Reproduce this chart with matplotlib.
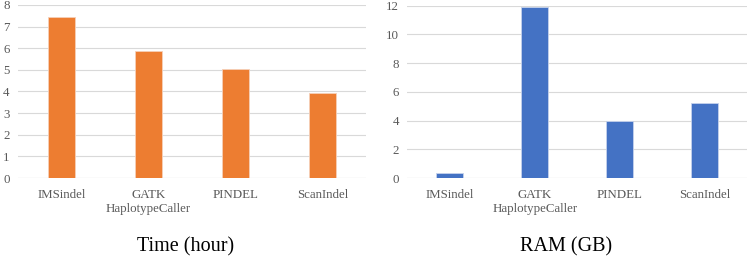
import matplotlib.pyplot as plt
import numpy as np

tools = ["IMSindel", "GATK\nHaplotypeCaller", "PINDEL", "ScanIndel"]
time_hours = [7.42, 5.88, 5.03, 3.92]
ram_gb = [0.35, 11.9, 4.0, 5.25]

plt.rcParams['font.family'] = ['Liberation Serif', 'DejaVu Serif']

fig = plt.figure(figsize=(7.5, 2.58), dpi=100)
ax1 = fig.add_axes([0.024, 0.31, 0.464, 0.671])
ax2 = fig.add_axes([0.543, 0.31, 0.453, 0.668])


def style_axis(ax, values, color, edge, ymax, step, title, title_x):
    x = np.arange(len(values))
    ax.bar(x, values, width=0.32, color=color, edgecolor=edge, linewidth=0.6, zorder=3)
    ax.set_xlim(-0.5, len(values) - 0.5)
    ax.set_ylim(0, ymax)
    ax.set_yticks(np.arange(0, ymax + step / 2, step))
    ax.set_xticks(x)
    ax.set_xticklabels(tools, fontsize=9.3, color='#595959', linespacing=1.25)
    ax.tick_params(axis='both', length=0, labelsize=9.3, labelcolor='#595959')
    ax.tick_params(axis='x', pad=8)
    ax.tick_params(axis='y', pad=6)
    ax.grid(axis='y', color='#D9D9D9', linewidth=0.8, zorder=0)
    for s in ax.spines.values():
        s.set_visible(False)
    ax.axhline(0, color='#D9D9D9', linewidth=0.8, zorder=1)
    fig.text(title_x, 0.043, title, ha='center', va='center', fontsize=14.5, color='black')


style_axis(ax1, time_hours, '#ED7D31', '#F6D0B8', 8, 1, "Time (hour)", 0.248)
style_axis(ax2, ram_gb, '#4472C4', '#C5D2EC', 12, 2, "RAM (GB)", 0.755)

fig.savefig('out.png', dpi=100)
